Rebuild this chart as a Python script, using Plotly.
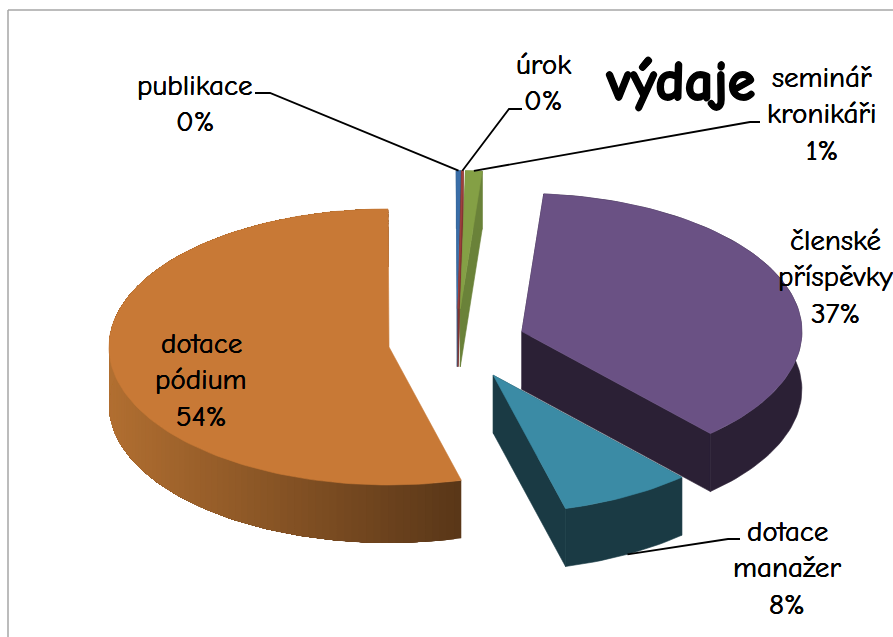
import math
import numpy as np
import plotly.graph_objects as go

# --- data ---
categories = ["publikace", "úrok", "seminář<br>kronikáři", "členské<br>příspěvky", "dotace<br>manažer", "dotace<br>pódium"]
values = [0.25, 0.1, 0.95, 37.0, 7.6, 54.1]
top_colors = ["#3A6EA8", "#A2423E", "#84A045", "#6A5184", "#3B8BA5", "#C87936"]
side_colors = ["#2F5A8A", "#823532", "#6A8239", "#2B2035", "#1A3A44", None]
pull = [0.245, 0.245, 0.245, 0.245, 0.27, 0.245]

# --- layout of the projected pie ---
W, H = 893, 637
CX, CY = 457.0, 342.5
A, B = 280.0, 138.0
DEPTH = 58.0
START = -0.2
FONT = "Comic Sans MS, Comic Neue, Lato, sans-serif"
FS = 29
LINE_H = 36.7
THICK = "0.2px 0 0 black, -0.2px 0 0 black"
THICK_TITLE = "1px 0 0 black, -1px 0 0 black, 0 1px 0 black, 0 -1px 0 black"

label_pos = [(195, 85), (543, 64), (822, 77), (835.5, 240), (787, 531), (201, 343)]
leader_elbow = [[(270, 93), (255, 93)], [(509, 109), (522, 109)], [(750, 122), (760, 122)], None,
                [(728, 539), (740, 539)], None]

fig = go.Figure()


def poly(xs, ys, color, lw=0.6):
    fig.add_trace(go.Scatter(x=xs, y=ys, mode="lines", fill="toself", fillcolor=color,
                             line=dict(color=color, width=lw), hoverinfo="skip", showlegend=False))


def pt(ang, apex, r=1.0):
    return apex[0] + A * r * math.sin(ang), apex[1] - B * r * math.cos(ang)


def mix(t):
    c0, c1 = (178, 111, 49), (90, 55, 24)
    return "rgb(%d,%d,%d)" % tuple(round(a + (b - a) * t) for a, b in zip(c0, c1))


total = sum(values)
slices = []
a0 = math.radians(START)
for i, v in enumerate(values):
    a1 = a0 + 2 * math.pi * v / total
    mid = (a0 + a1) / 2
    apex = (CX + pull[i] * A * math.sin(mid), CY - pull[i] * B * math.cos(mid))
    slices.append((i, a0, a1, mid, apex))
    a0 = a1

# back-to-front painting order
for i, a0, a1, mid, apex in sorted(slices, key=lambda s: [0, 1, 2, 3, 5, 4][s[0]]):
    n = max(6, int(math.degrees(a1 - a0) / 1.5))
    ts = np.linspace(a0, a1, n + 1)
    outer = [pt(t, apex) for t in ts]
    if side_colors[i]:
        # radial walls and arc wall as one extrusion
        for p, q in [(apex, outer[0]), (apex, outer[-1])]:
            poly([p[0], q[0], q[0], p[0], p[0]], [p[1], q[1], q[1] + DEPTH, p[1] + DEPTH, p[1]], side_colors[i])
        xs = [p[0] for p in outer] + [p[0] for p in outer[::-1]]
        ys = [p[1] for p in outer] + [p[1] + DEPTH for p in outer[::-1]]
        poly(xs + xs[:1], ys + ys[:1], side_colors[i])
    else:
        # gradient wall: each strip runs on over the rest of the arc, so no seams show
        for k in range(n):
            p = outer[k]
            if p[1] < apex[1] - 10 and p[0] < apex[0]:
                break
            t = min(1, max(0, (461 - p[0]) / 354))
            rest = outer[k:]
            xs = [r[0] for r in rest] + [r[0] for r in rest[::-1]]
            ys = [r[1] for r in rest] + [r[1] + DEPTH for r in rest[::-1]]
            poly(xs + xs[:1], ys + ys[:1], mix(1 - t), lw=0)
    poly([apex[0]] + [p[0] for p in outer] + [apex[0]], [apex[1]] + [p[1] for p in outer] + [apex[1]], top_colors[i])

# labels
for (i, a0, a1, mid, apex), name, (lx, ly), elbow in zip(slices, categories, label_pos, leader_elbow):
    pct = f"{round(values[i] / total * 100)}%"
    for k, line in enumerate(name.split("<br>") + [pct]):
        fig.add_annotation(x=lx, y=ly + k * LINE_H, text=line, showarrow=False, xref="x", yref="y",
                           xanchor="center", yanchor="middle",
                           font=dict(family=FONT, size=FS, color="black", shadow=THICK))
    if elbow:
        end = pt(mid, apex)
        if i == 4:
            end = (end[0], end[1] + DEPTH)
        xs = [elbow[1][0], elbow[0][0], end[0]]
        ys = [elbow[1][1], elbow[0][1], end[1]]
        fig.add_trace(go.Scatter(x=xs, y=ys, mode="lines", line=dict(color="black", width=1.8),
                                 hoverinfo="skip", showlegend=False))

fig.add_annotation(x=680, y=82, text="<b>výdaje</b>", showarrow=False, xref="x", yref="y",
                   font=dict(family=FONT, size=56, color="black", shadow=THICK_TITLE))

# chart frame
fig.add_shape(type="line", x0=8, y0=10, x1=8, y1=637, xref="x", yref="y", line=dict(color="#A6A6A6", width=1.5))
fig.add_shape(type="line", x0=8, y0=10, x1=893, y1=10, xref="x", yref="y", line=dict(color="#A6A6A6", width=1.5))

fig.update_layout(width=W, height=H, margin=dict(l=0, r=0, t=0, b=0), paper_bgcolor="white", plot_bgcolor="white",
                  xaxis=dict(range=[0, W], visible=False, fixedrange=True),
                  yaxis=dict(range=[H, 0], visible=False, fixedrange=True),
                  showlegend=False)
fig.write_html("out.html", config=dict(displayModeBar=False),
               post_script="document.body.style.margin='0';document.documentElement.style.overflow='hidden';")
